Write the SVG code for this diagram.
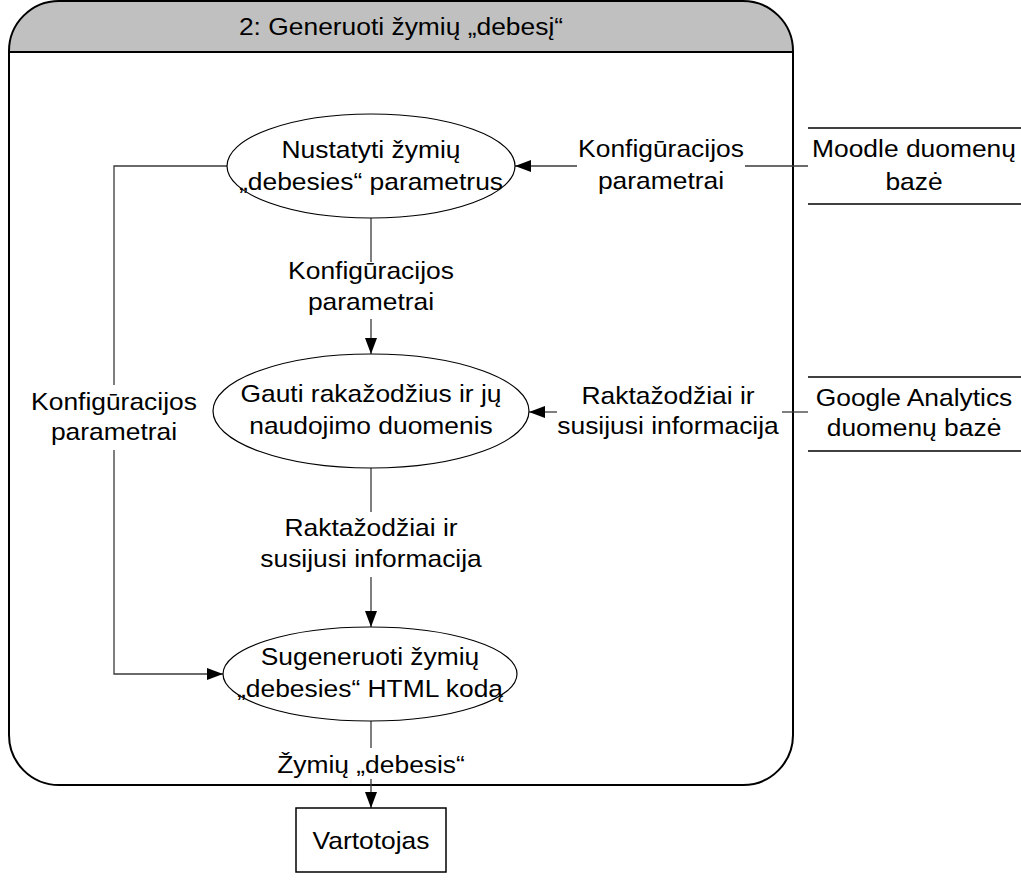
<svg xmlns="http://www.w3.org/2000/svg" width="1021" height="888" viewBox="0 0 1021 888">
  <style>
    .t { font-family: "Liberation Sans", Arial, sans-serif; font-size: 24px; fill: #000; text-anchor: middle; }
    .flow { fill: none; stroke: #3a3a3a; stroke-width: 1.3; }
    .proc { fill: #fff; stroke: #000; stroke-width: 1.2; }
    .store { stroke: #000; stroke-width: 1.5; }
  </style>
  <defs>
    <marker id="arrow" viewBox="0 0 16 12" refX="16" refY="6" markerWidth="16" markerHeight="12" markerUnits="userSpaceOnUse" orient="auto">
      <path d="M0,0 L16,6 L0,12 Z" fill="#000"/>
    </marker>
  </defs>

  <rect width="1021" height="888" fill="#fff"/>

  <!-- process container with header -->
  <g id="container">
    <path d="M9,52 V51 A50,50 0 0 1 59,1 H743 A50,50 0 0 1 793,51 V52 Z" fill="#c0c0c0"/>
    <line x1="9" y1="52" x2="793" y2="52" stroke="#000" stroke-width="2"/>
    <rect x="9" y="1" width="784" height="784" rx="50" ry="50" fill="none" stroke="#000" stroke-width="2"/>
    <text class="t" transform="translate(401,35) scale(1.1,1)">2: Generuoti žymių „debesį“</text>
  </g>

  <!-- connectors -->
  <g id="connectors">
    <!-- Moodle store to process 1 -->
    <line class="flow" x1="808" y1="166" x2="745" y2="166"/>
    <line class="flow" x1="577" y1="166" x2="515" y2="166" marker-end="url(#arrow)"/>
    <text class="t" transform="translate(661,0) scale(1.1,1)"><tspan x="0" y="157">Konfigūracijos</tspan><tspan x="0" y="189">parametrai</tspan></text>

    <!-- process 1 to process 2 -->
    <line class="flow" x1="371" y1="218" x2="371" y2="262"/>
    <line class="flow" x1="371" y1="319" x2="371" y2="354" marker-end="url(#arrow)"/>
    <text class="t" transform="translate(371,0) scale(1.1,1)"><tspan x="0" y="279">Konfigūracijos</tspan><tspan x="0" y="310">parametrai</tspan></text>

    <!-- Google Analytics store to process 2 -->
    <line class="flow" x1="808" y1="412" x2="782" y2="412"/>
    <line class="flow" x1="557" y1="412" x2="529" y2="412" marker-end="url(#arrow)"/>
    <text class="t" transform="translate(668,0) scale(1.1,1)"><tspan x="0" y="404">Raktažodžiai ir</tspan><tspan x="0" y="434">susijusi informacija</tspan></text>

    <!-- process 2 to process 3 -->
    <line class="flow" x1="371" y1="468" x2="371" y2="512"/>
    <line class="flow" x1="371" y1="577" x2="371" y2="627" marker-end="url(#arrow)"/>
    <text class="t" transform="translate(371,0) scale(1.1,1)"><tspan x="0" y="536">Raktažodžiai ir</tspan><tspan x="0" y="567">susijusi informacija</tspan></text>

    <!-- process 1 to process 3 (left route) -->
    <polyline class="flow" points="227,166 114,166 114,385"/>
    <polyline class="flow" points="114,450 114,674 223,674" marker-end="url(#arrow)"/>
    <text class="t" transform="translate(114,0) scale(1.1,1)"><tspan x="0" y="410">Konfigūracijos</tspan><tspan x="0" y="440">parametrai</tspan></text>

    <!-- process 3 to user -->
    <line class="flow" x1="371" y1="721" x2="371" y2="748"/>
    <line class="flow" x1="371" y1="779" x2="371" y2="808" marker-end="url(#arrow)"/>
    <text class="t" transform="translate(371,773) scale(1.1,1)">Žymių „debesis“</text>
  </g>

  <!-- processes -->
  <g id="p1">
    <ellipse class="proc" cx="371" cy="166" rx="144" ry="52"/>
    <text class="t" transform="translate(371,0) scale(1.1,1)"><tspan x="0" y="158">Nustatyti žymių</tspan><tspan x="0" y="190">„debesies“ parametrus</tspan></text>
  </g>
  <g id="p2">
    <ellipse class="proc" cx="371" cy="411" rx="158" ry="57"/>
    <text class="t" transform="translate(371,0) scale(1.1,1)"><tspan x="0" y="402">Gauti rakažodžius ir jų</tspan><tspan x="0" y="434">naudojimo duomenis</tspan></text>
  </g>
  <g id="p3">
    <ellipse class="proc" cx="370" cy="674" rx="147" ry="47"/>
    <text class="t" transform="translate(370,0) scale(1.1,1)"><tspan x="0" y="665">Sugeneruoti žymių</tspan><tspan x="0" y="697">„debesies“ HTML kodą</tspan></text>
  </g>

  <!-- data stores -->
  <g id="moodle-db">
    <line class="store" x1="808" y1="128" x2="1021" y2="128"/>
    <line class="store" x1="808" y1="204" x2="1021" y2="204"/>
    <text class="t" transform="translate(914,0) scale(1.1,1)"><tspan x="0" y="157">Moodle duomenų</tspan><tspan x="0" y="190">bazė</tspan></text>
  </g>
  <g id="ga-db">
    <line class="store" x1="808" y1="377" x2="1021" y2="377"/>
    <line class="store" x1="808" y1="451" x2="1021" y2="451"/>
    <text class="t" transform="translate(914,0) scale(1.1,1)"><tspan x="0" y="406">Google Analytics</tspan><tspan x="0" y="436">duomenų bazė</tspan></text>
  </g>

  <!-- external entity -->
  <g id="user">
    <rect x="296" y="808" width="150" height="64" fill="#fff" stroke="#000" stroke-width="1.5"/>
    <text class="t" transform="translate(371,849) scale(1.1,1)">Vartotojas</text>
  </g>
</svg>
